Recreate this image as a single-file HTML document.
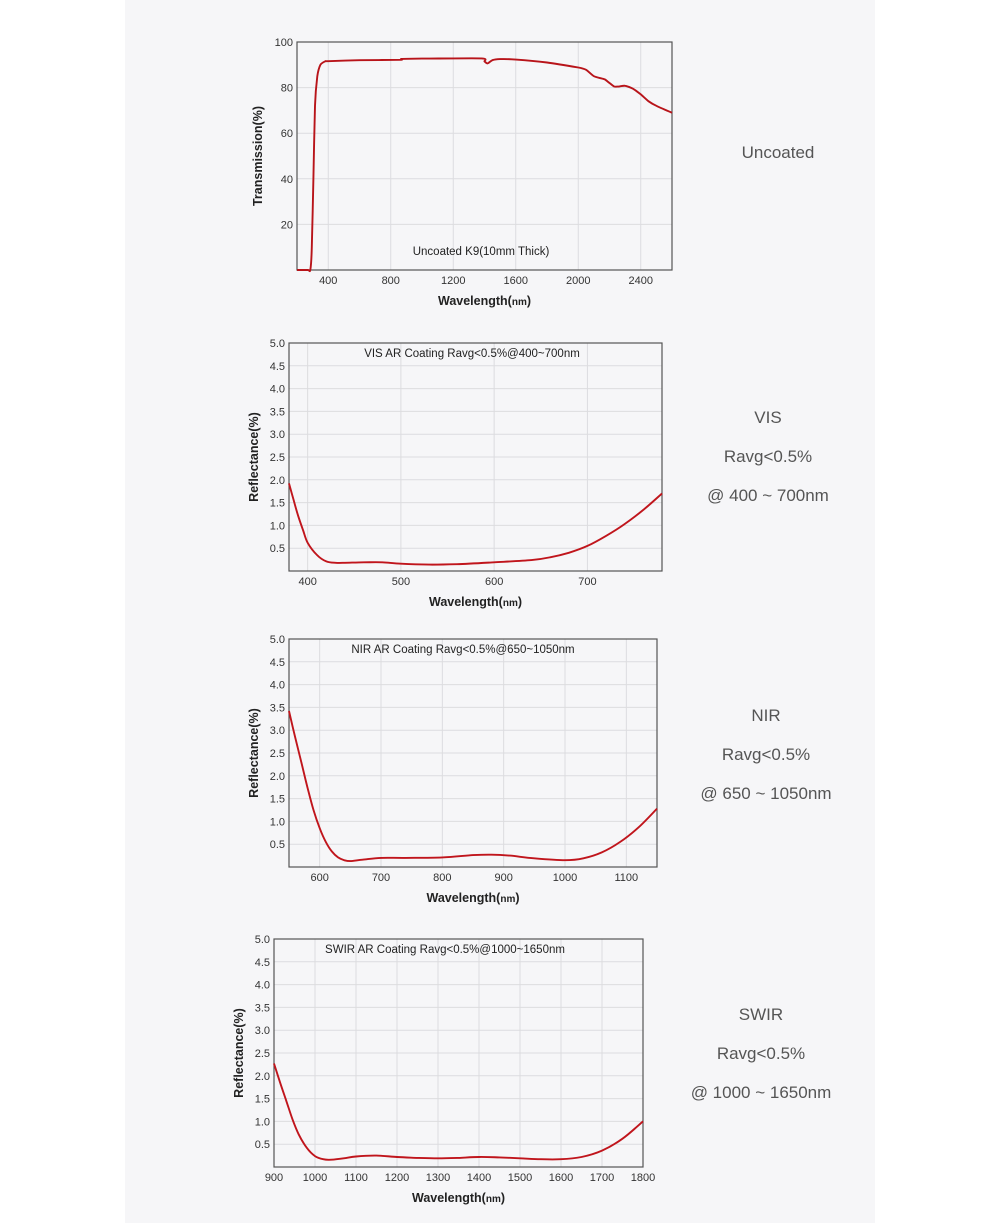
<!DOCTYPE html>
<html><head><meta charset="utf-8">
<style>
html,body{margin:0;padding:0;background:#fff;}
body{width:1000px;height:1223px;position:relative;overflow:hidden;font-family:"Liberation Sans",sans-serif;}
#panel{position:absolute;left:125px;top:0;width:750px;height:1223px;background:#f6f6f8;}
.side{position:absolute;width:200px;text-align:center;color:#555;font-size:17px;font-family:"Liberation Sans","Noto Sans CJK SC",sans-serif;}
.side div{height:39px;line-height:39px;}
svg{position:absolute;left:0;top:0;}
</style></head>
<body>
<div id="panel"></div>
<div class="side" style="left:678px;top:133px;"><div>Uncoated</div></div>
<div class="side" style="left:668px;top:398px;"><div>VIS</div><div>Ravg&lt;0.5%</div><div>@ 400 ~ 700nm</div></div>
<div class="side" style="left:666px;top:696px;"><div>NIR</div><div>Ravg&lt;0.5%</div><div>@ 650 ~ 1050nm</div></div>
<div class="side" style="left:661px;top:995px;"><div>SWIR</div><div>Ravg&lt;0.5%</div><div>@ 1000 ~ 1650nm</div></div>
<svg id="chart" width="1000" height="1223"></svg>
<script>
// Chart 1: Uncoated K9 transmission
const t_wl  = [200,270,285,295,305,315,330,350,380,400,600,860,870,1000,1380,1400,1420,1450,1500,1600,1800,2000,2050,2100,2150,2170,2200,2230,2260,2300,2350,2400,2450,2500,2600];
const t_val = [0,0,0,10,40,72,85,90,91.5,91.6,92,92.2,92.6,92.7,92.8,91.5,90.6,92,92.5,92.3,91,88.8,87.8,85,84,83.6,82,80.5,80.5,80.8,79.5,77,74,72,69];
const t_xt  = [400,800,1200,1600,2000,2400];
const t_yt  = [20,40,60,80,100];
// Chart 2: VIS
const v_wl  = [380,385,390,395,400,410,420,430,440,460,480,500,530,560,600,640,660,680,700,720,740,760,780];
const v_val = [1.92,1.55,1.2,0.9,0.62,0.35,0.21,0.18,0.18,0.19,0.19,0.16,0.14,0.15,0.19,0.24,0.3,0.4,0.55,0.77,1.03,1.34,1.7];
// Chart 3: NIR
const n_wl  = [550,560,570,580,590,600,610,620,630,640,650,670,700,740,800,850,880,910,950,1000,1030,1060,1090,1120,1150];
const n_val = [3.42,2.85,2.3,1.75,1.25,0.85,0.55,0.34,0.21,0.15,0.13,0.16,0.2,0.2,0.21,0.26,0.27,0.25,0.19,0.15,0.19,0.32,0.55,0.87,1.28];
// Chart 4: SWIR
const s_wl  = [900,915,930,945,960,980,1000,1020,1040,1070,1100,1150,1200,1250,1300,1350,1400,1450,1500,1550,1600,1650,1700,1750,1800];
const s_val = [2.27,1.85,1.45,1.05,0.72,0.42,0.24,0.17,0.16,0.19,0.23,0.25,0.22,0.2,0.19,0.2,0.22,0.21,0.19,0.17,0.17,0.22,0.36,0.62,1.0];
const r_yt  = [0.5,1.0,1.5,2.0,2.5,3.0,3.5,4.0,4.5,5.0];
const v_xt  = [400,500,600,700];
const n_xt  = [600,700,800,900,1000,1100];
const s_xt  = [900,1000,1100,1200,1300,1400,1500,1600,1700,1800];

const NS='http://www.w3.org/2000/svg';
const svg=document.getElementById('chart');
function mk(tag,attrs,parent){const e=document.createElementNS(NS,tag);for(const k in attrs)e.setAttribute(k,attrs[k]);(parent||svg).appendChild(e);return e;}

function smoothPath(pts,tension){
  let d='M'+pts[0][0].toFixed(1)+','+pts[0][1].toFixed(1);
  for(let i=0;i<pts.length-1;i++){
    const p0=pts[Math.max(i-1,0)],p1=pts[i],p2=pts[i+1],p3=pts[Math.min(i+2,pts.length-1)];
    const c1x=p1[0]+(p2[0]-p0[0])*tension, c1y=p1[1]+(p2[1]-p0[1])*tension;
    const c2x=p2[0]-(p3[0]-p1[0])*tension, c2y=p2[1]-(p3[1]-p1[1])*tension;
    d+='C'+c1x.toFixed(1)+','+c1y.toFixed(1)+' '+c2x.toFixed(1)+','+c2y.toFixed(1)+' '+p2[0].toFixed(1)+','+p2[1].toFixed(1);
  }
  return d;
}

function drawChart(o){
  const g=mk('g',{});
  
  
  const X=v=>o.L+(v-o.x0)/(o.x1-o.x0)*(o.R-o.L);
  const Y=v=>o.B-(v-o.y0)/(o.y1-o.y0)*(o.B-o.T);
  o.yt.forEach(t=>{
    const l=mk('line',{x1:o.L,x2:o.R,y1:Y(t),y2:Y(t),stroke:'#dcdcdf','stroke-width':1},g);
    
    
    const tx=mk('text',{x:o.L-4,y:Y(t)+4,'text-anchor':'end','font-size':11,fill:'#333'},g);
    tx.textContent=o.yfmt(t);
    
    
  });
  o.xt.forEach(t=>{
    const l=mk('line',{x1:X(t),x2:X(t),y1:o.T,y2:o.B,stroke:'#dcdcdf','stroke-width':1},g);
    
    
    const tx=mk('text',{x:X(t),y:o.B+14,'text-anchor':'middle','font-size':11,fill:'#333'},g);
    tx.textContent=t;
    
    
  });
  const fr=mk('rect',{x:o.L,y:o.T,width:o.R-o.L,height:o.B-o.T,fill:'none',stroke:'#555','stroke-width':1.2},g);
  
  
  const pts=o.wl.map((w,i)=>[X(w),Y(o.val[i])]);
  const p=mk('path',{d:smoothPath(pts,o.tension),fill:'none',stroke:o.color,'stroke-width':1.9,'stroke-linejoin':'round'},g);
  
  
  const an=mk('text',{x:o.ax,y:o.ay,'text-anchor':'middle','font-size':11.5,fill:'#222'},g);
  an.textContent=o.annot;
  
  
  const xl=mk('text',{x:(o.L+o.R)/2,y:o.B+35,'text-anchor':'middle','font-size':12.5,'font-weight':'bold',fill:'#222'},g);
  xl.innerHTML='Wavelength(<tspan font-size="10">nm</tspan>)';
  
  
  const cy=(o.T+o.B)/2, cx=o.L-o.ylx;
  const yl=mk('text',{x:cx,y:cy,'text-anchor':'middle','font-size':12.5,'font-weight':'bold',fill:'#222',transform:`rotate(-90 ${cx} ${cy})`},g);
  yl.textContent=o.ylabel;
  
  
}
drawChart({name:'uncoated-transmission-chart',L:297,R:672,T:42,B:270,x0:200,x1:2600,y0:0,y1:100,wl:t_wl,val:t_val,xt:t_xt,yt:t_yt,yfmt:t=>t,annot:'Uncoated K9(10mm Thick)',ax:481,ay:255,ylabel:'Transmission(%)',ylx:35,tension:0.12,color:'#b8141a'});
drawChart({name:'vis-reflectance-chart',L:289,R:662,T:343,B:571,x0:380,x1:780,y0:0,y1:5,wl:v_wl,val:v_val,xt:v_xt,yt:r_yt,yfmt:t=>t.toFixed(1),annot:'VIS AR Coating Ravg<0.5%@400~700nm',ax:472,ay:357,ylabel:'Reflectance(%)',ylx:31,tension:0.17,color:'#c0151c'});
drawChart({name:'nir-reflectance-chart',L:289,R:657,T:639,B:867,x0:550,x1:1150,y0:0,y1:5,wl:n_wl,val:n_val,xt:n_xt,yt:r_yt,yfmt:t=>t.toFixed(1),annot:'NIR AR Coating Ravg<0.5%@650~1050nm',ax:463,ay:653,ylabel:'Reflectance(%)',ylx:31,tension:0.17,color:'#c0151c'});
drawChart({name:'swir-reflectance-chart',L:274,R:643,T:939,B:1167,x0:900,x1:1800,y0:0,y1:5,wl:s_wl,val:s_val,xt:s_xt,yt:r_yt,yfmt:t=>t.toFixed(1),annot:'SWIR AR Coating Ravg<0.5%@1000~1650nm',ax:445,ay:953,ylabel:'Reflectance(%)',ylx:31,tension:0.17,color:'#c0151c'});
</script>
</body></html>
